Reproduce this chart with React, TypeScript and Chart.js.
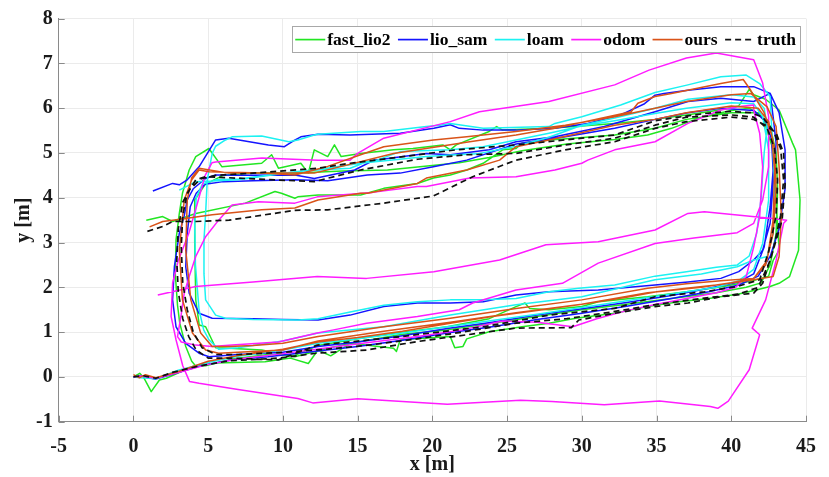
import React, { useEffect, useRef } from 'react';
import { Chart, registerables } from 'chart.js';

Chart.register(...registerables);

type Pt = [number, number];

const seriesLabels = ['fast_lio2', 'lio_sam', 'loam', 'odom', 'ours', 'truth'];
const xTickValues = [-5, 0, 5, 10, 15, 20, 25, 30, 35, 40, 45];
const yTickValues = [-1, 0, 1, 2, 3, 4, 5, 6, 7, 8];

const fastLio2: Pt[] = [
  [0, 0], [0.42, 0.08], [0.7, -0.02], [1.19, -0.33], [1.74, -0.07], [2.2, -0.03], [3.95, 0.23], [5.5, 0.31], [8.8, 0.34],
  [10.5, 0.42], [11.7, 0.3], [12.35, 0.6], [13.2, 0.47], [14.5, 0.75], [17.4, 0.64], [17.6, 0.57], [17.85, 0.83], [21.2, 0.9],
  [21.5, 0.65], [22.05, 0.68], [22.3, 0.85], [23.8, 1.01], [26.0, 1.12], [27.8, 1.2], [29.6, 1.31], [32.2, 1.42], [34.4, 1.57],
  [36.5, 1.68], [38.5, 1.75], [40.5, 1.85], [41.8, 1.95], [42.6, 2.02],
  [43.2, 2.09], [43.9, 2.24], [44.5, 2.83], [44.6, 3.95], [44.3, 5.07], [44.1, 5.22], [43.2, 5.96], [42.3, 6.2], [41.5, 6.3], [41.2, 6.42],
  [40.5, 6.05], [39, 5.95], [37, 5.85], [34.9, 5.75], [32.2, 5.66], [30, 5.6], [27.8, 5.55], [24.7, 5.51], [24.3, 5.59], [23.8, 5.48],
  [21.6, 5.18], [21.2, 5.07], [20.7, 5.18], [18.7, 5.1], [17.4, 5.07], [15.2, 4.99], [13.9, 4.92], [13.45, 5.18], [13.0, 4.92],
  [12.1, 5.07], [11.7, 4.55], [11.2, 4.77], [9.7, 4.66], [9.25, 4.96], [8.58, 4.77], [5.93, 4.69], [5.05, 5.1],
  [4.17, 4.92], [3.73, 4.62], [3.28, 4.1], [3.07, 3.65], [2.85, 3.06], [2.8, 2.3], [2.95, 1.6], [3.1, 1.2], [3.5, 0.68], [3.9, 0.35], [4.2, 0.23], [4.83, 0.25],
  [6.6, 0.4], [9, 0.5], [10.8, 0.48], [12.35, 0.7], [15, 0.85], [18, 1.0], [21, 1.12], [23.8, 1.3], [25.6, 1.57], [26.2, 1.65], [26.5, 1.53],
  [27.8, 1.5], [30, 1.57], [31.1, 1.68], [34.4, 1.79], [37, 1.9], [39.5, 2.02], [41.5, 2.15], [42.5, 2.25],
  [42.8, 2.6], [43.2, 2.83], [43.0, 3.95], [42.8, 5.07], [42.1, 5.81], [41.2, 6.0],
  [40, 5.95], [38, 5.8], [36, 5.55], [34.4, 5.4], [32.2, 5.3], [29, 5.2], [26, 5.05], [23.8, 4.9], [21.8, 4.78], [20, 4.72],
  [17, 4.62], [14, 4.6], [11, 4.55], [8, 4.55], [6, 4.5], [4.8, 4.3],
  [4.1, 3.95], [4.1, 3.0], [4.17, 1.72], [4.4, 1.16], [4.83, 1.12], [5.5, 0.65], [6.4, 0.64],
  [8.58, 0.6], [10.8, 0.45], [13, 0.64], [15, 0.78], [18, 0.95], [21, 1.05], [24, 1.2], [27, 1.35], [30, 1.5], [33, 1.62], [36, 1.75],
  [39, 1.88], [41, 2.0], [42, 2.1],
  [42.6, 2.5], [43.0, 3.2], [43.1, 4.2], [43.0, 5.0], [42.6, 5.6], [41.8, 5.9],
  [40, 5.9], [37, 5.75], [34.9, 5.55], [32.2, 5.4], [29, 5.32], [27.8, 5.29], [26.0, 5.22], [25.6, 5.1], [24.7, 5.07], [23.4, 4.77],
  [22.3, 4.62], [21.2, 4.51], [20.07, 4.44], [19, 4.32], [16.75, 4.21], [15.2, 4.06], [12.35, 4.06], [11, 4.02], [10.8, 3.99],
  [9.9, 4.1], [9.47, 4.14], [7.48, 3.88], [4.17, 3.65], [2.62, 3.47], [1.96, 3.58], [0.86, 3.5],
];

const lioSam: Pt[] = [
  [0, 0], [0.5, 0.02], [1.5, -0.05], [3, 0.1], [4.5, 0.25], [6.5, 0.38], [9, 0.45], [12.35, 0.58], [15, 0.68], [18, 0.82], [21, 0.98],
  [24, 1.12], [27, 1.28], [30, 1.42], [33, 1.58], [36, 1.75], [38.5, 1.9], [40.5, 2.05], [41.8, 2.25],
  [42.6, 2.69], [43.2, 3.3], [43.6, 4.2], [43.6, 5.07], [43.2, 5.9], [42.6, 6.33], [41.5, 6.15],
  [39.3, 6.22], [37.1, 6.15], [34.9, 5.92], [31.5, 5.59], [28.2, 5.36], [25.6, 5.25], [23.8, 5.07], [21.2, 4.96], [19.6, 4.99],
  [16.1, 4.84], [14.8, 4.62], [12.1, 4.43], [10.8, 4.51], [7, 4.5], [5.5, 4.51], [4.83, 4.43], [4.0, 4.2],
  [3.6, 3.95], [3.4, 3.6], [3.07, 3.21], [2.74, 2.46], [2.62, 1.72], [2.85, 1.12], [3.5, 0.75], [4.39, 0.53], [5.05, 0.45],
  [7, 0.5], [10, 0.55], [12.35, 0.68], [15, 0.78], [18, 0.92], [21, 1.08], [24, 1.22], [27, 1.38], [30, 1.52], [33, 1.66], [36, 1.82],
  [38.5, 1.98], [40.5, 2.12], [41.5, 2.3],
  [42.2, 2.9], [42.6, 3.8], [42.8, 4.6], [42.7, 5.3], [42.3, 5.7], [41.5, 5.95],
  [39.3, 6.0], [37.1, 5.9], [34.9, 5.75], [32.2, 5.55], [28.9, 5.36], [25.6, 5.2], [22.3, 4.84], [20.07, 4.69], [17.85, 4.55],
  [15.65, 4.51], [13, 4.38], [10.8, 4.4], [8, 4.38], [6, 4.36], [4.8, 4.3], [4.2, 4.1],
  [3.8, 3.8], [3.6, 3.2], [3.5, 2.46], [3.73, 1.87], [4.39, 1.42], [5.27, 1.31],
  [8, 1.3], [10, 1.28], [12.35, 1.27], [14.5, 1.38], [16.75, 1.57], [19, 1.65], [21.2, 1.65], [23.4, 1.68], [25.6, 1.83], [27.8, 1.9],
  [31.1, 1.94], [34.9, 2.05], [37.1, 2.12], [39.3, 2.2], [40.5, 2.35], [41.5, 2.61],
  [42.1, 2.83], [42.6, 3.43], [42.8, 4.32], [43.0, 5.22], [42.8, 5.81], [42.6, 6.33], [41.5, 6.48],
  [39.3, 6.48], [37.1, 6.4], [35.5, 6.33], [34.9, 6.29], [34.2, 6.1], [32.6, 5.85], [30.4, 5.66], [28.2, 5.55], [25.6, 5.51],
  [23.4, 5.51], [21.8, 5.55], [21.2, 5.63], [20.1, 5.55], [17.85, 5.44], [14.5, 5.4], [12.35, 5.42], [11.2, 5.36], [10.6, 5.25],
  [10.1, 5.14], [9.03, 5.18], [6.38, 5.33], [5.5, 5.29], [4.39, 4.69], [3.6, 4.4], [3.07, 4.29], [2.62, 4.32], [1.3, 4.15],
];

const loam: Pt[] = [
  [0, 0], [0.5, -0.02], [1.5, -0.04], [3, 0.15], [5, 0.32], [7, 0.46], [10, 0.6], [12.35, 0.75], [15, 0.85], [18, 0.98], [21, 1.12],
  [24, 1.26], [27, 1.4], [30, 1.55], [33, 1.7], [36, 1.85], [39, 2.0], [40.5, 2.15], [41.5, 2.4],
  [42.1, 2.98], [42.5, 3.95], [42.5, 5.07], [42.1, 5.81], [41.5, 6.1],
  [40, 6.12], [37, 6.0], [34.9, 5.88], [32.2, 5.72], [30, 5.6], [27.8, 5.44], [25.6, 5.29], [23.4, 5.14], [21.2, 5.07], [17.85, 5.03],
  [16.3, 4.84], [15.65, 4.81], [14.5, 4.66], [12.35, 4.62], [10.8, 4.58], [7.04, 4.42], [5.5, 4.4], [4.6, 4.3],
  [4.2, 4.0], [4.1, 3.4], [4.15, 2.5], [4.39, 1.5], [4.7, 1.05], [5.05, 0.83], [5.7, 0.62],
  [7, 0.65], [10, 0.8], [12.35, 0.98], [16.75, 1.12], [21.2, 1.38], [25.6, 1.61], [30, 1.79], [34.9, 2.17], [38, 2.3], [40.4, 2.46],
  [41.5, 2.61], [42.4, 2.69],
  [42.8, 3.21], [42.9, 4.32], [42.7, 5.59], [42.6, 6.26], [41.9, 6.55], [41.0, 6.74],
  [39.3, 6.7], [37.1, 6.52], [34.9, 6.35], [32.6, 6.07], [30, 5.81], [28.2, 5.66], [27.8, 5.59], [23.4, 5.55], [21.2, 5.66], [20.5, 5.62],
  [19.6, 5.59], [16.75, 5.48], [15.2, 5.48], [12.35, 5.42], [12.1, 5.4], [11, 5.29], [10.4, 5.25], [8.58, 5.38], [6.6, 5.36],
  [6.16, 5.29], [5.5, 5.15], [5.27, 4.99], [4.94, 4.4], [4.83, 3.65],
  [4.72, 3.06], [4.72, 2.3], [4.83, 1.72], [5.5, 1.38], [6.16, 1.31],
  [8, 1.28], [11, 1.27], [12.35, 1.3], [14.5, 1.45], [16.75, 1.6], [19, 1.68], [21.2, 1.72], [23.4, 1.72], [25.6, 1.75], [27.8, 1.9],
  [29.8, 1.98], [32.2, 2.05], [34.9, 2.25], [37, 2.35], [39, 2.45], [40.4, 2.5], [41.2, 2.7],
  [41.7, 3.2], [42.0, 4.0], [42.2, 5.0], [42.4, 5.6], [42.2, 6.0], [41.5, 6.25],
  [40, 6.3], [37.1, 6.2], [34.9, 6.0], [32.2, 5.78], [30, 5.62], [27.8, 5.35], [25.6, 5.15], [23, 4.98], [21, 4.95], [19.6, 4.92],
  [15.2, 4.77], [12.1, 4.62], [10.8, 4.58], [7.04, 4.4], [4.17, 4.36], [3.07, 4.17],
];

const odom: Pt[] = [
  [0, 0], [0.5, 0.02], [1.5, -0.03], [3, 0.1], [5, 0.28], [7, 0.4], [10, 0.52], [13, 0.65], [16, 0.78], [19, 0.9], [22, 1.05],
  [24.7, 1.25], [27, 1.22], [29.4, 1.12], [31, 1.3], [33, 1.48], [35, 1.62], [37, 1.75], [39, 1.88], [40.3, 2.0], [41, 2.24],
  [41.5, 2.9], [41.9, 3.58], [42.1, 4.69], [41.9, 5.44], [41.5, 5.96], [41.5, 6.07],
  [40.4, 6.03], [39.3, 5.96], [37.1, 5.66], [34.9, 5.25], [32.2, 5.07], [30.4, 4.84], [30, 4.77], [28.2, 4.62], [25.6, 4.47],
  [22.5, 4.44], [19.6, 4.25], [19, 4.25], [16, 4.12], [12.3, 4.02], [10.8, 3.88], [8.36, 3.91], [6.6, 3.84],
  [5.7, 3.5], [4.83, 3.13], [4.17, 2.69], [3.73, 2.24], [3.4, 1.87], [3.2, 1.4], [2.95, 0.9], [3.2, 0.78], [4.17, 0.71], [5.25, 0.68],
  [6.6, 0.71], [9.7, 0.78], [12.3, 0.98], [13.4, 1.05], [15.6, 1.2], [19.0, 1.35], [21.8, 1.5], [22.7, 1.65], [25.6, 1.94],
  [28.7, 2.09], [31.1, 2.54], [34.9, 2.98], [37.5, 3.1], [40.4, 3.22], [41.5, 3.43],
  [42.1, 3.95], [42.5, 4.69], [42.5, 5.81], [42.1, 6.56], [41.5, 7.08],
  [39, 7.23], [37, 7.12], [34.5, 6.85], [32.2, 6.52], [27.8, 6.15], [23.15, 5.92], [21.2, 5.7], [16.75, 5.33], [15.0, 4.99],
  [14.5, 4.84], [12.35, 4.84], [8.6, 4.89], [5.5, 4.8], [5.25, 4.78],
  [4.8, 4.5], [4.3, 3.9], [3.7, 3.2], [3.0, 2.6], [2.62, 2.09], [2.52, 1.35], [2.85, 0.83], [3.3, 0.25], [3.75, -0.1], [4.39, -0.14],
  [7, -0.28], [11.0, -0.48], [12.0, -0.58], [15.0, -0.49], [18, -0.55], [21.0, -0.61], [25.9, -0.52], [28, -0.55], [31.5, -0.62],
  [35.2, -0.54], [38.6, -0.66], [39.1, -0.7], [39.8, -0.54], [41.2, 0.16], [41.9, 0.94], [41.4, 1.09], [42.3, 1.72],
  [43.0, 2.6], [43.5, 3.43], [43.7, 3.5],
  [42.6, 3.54], [38.2, 3.69], [37.1, 3.65], [34.9, 3.28], [31.1, 3.02], [27.6, 2.95], [24.5, 2.61], [20.1, 2.35], [15.6, 2.2],
  [12.3, 2.24], [8, 2.12], [4.17, 2.02], [1.63, 1.83],
];

const ours: Pt[] = [
  [0, 0.05], [0.4, -0.02], [0.8, 0.05], [1.5, -0.02], [3, 0.12], [5, 0.35], [7, 0.48], [10, 0.62], [12.35, 0.78], [15, 0.88],
  [18, 1.02], [21.2, 1.2], [24, 1.35], [27, 1.48], [30, 1.62], [33, 1.78], [35, 1.9], [37, 1.98], [39, 2.05], [41.5, 2.17], [42.8, 2.24],
  [43.2, 2.69], [43.35, 3.58], [43.2, 4.69], [43.0, 5.59], [42.4, 6.03], [41.3, 6.33],
  [40, 6.3], [37, 6.15], [34.9, 6.0], [32.2, 5.81], [28.9, 5.62], [25.6, 5.48], [22.3, 5.36], [20.07, 5.29], [16.75, 5.14],
  [15.2, 4.96], [13, 4.7], [10.8, 4.51], [8.58, 4.55], [5.05, 4.58], [4.39, 4.62], [3.9, 4.4],
  [3.4, 3.95], [3.07, 2.83], [3.28, 1.72], [3.95, 0.98], [4.83, 0.6], [5.7, 0.53],
  [7, 0.55], [10, 0.6], [12.35, 0.8], [16.75, 1.02], [21.2, 1.22], [25.6, 1.43], [30, 1.62], [34.4, 1.88], [38, 2.0], [40, 2.1], [41.5, 2.2],
  [42.4, 2.6], [42.8, 3.5], [42.9, 4.6], [42.7, 5.4], [42.2, 5.9], [41.3, 6.4], [40.8, 6.64],
  [39.3, 6.55], [36.0, 6.33], [34.9, 6.26], [33.75, 6.11], [33.3, 5.92], [28.2, 5.55], [25.6, 5.4], [22.5, 5.25], [17.4, 4.99],
  [12.1, 4.55], [6.38, 4.55], [4.39, 4.66], [3.9, 4.45],
  [3.6, 3.95], [3.5, 2.83], [3.84, 1.72], [4.5, 0.98], [5.27, 0.68], [6.4, 0.68],
  [8, 0.7], [10, 0.75], [12.35, 0.9], [16.75, 1.12], [21.2, 1.31], [25.6, 1.53], [30, 1.72], [34.4, 1.98], [37, 2.08], [39.5, 2.15], [41.5, 2.2],
  [42.3, 2.5], [42.8, 3.2], [43.0, 4.2], [42.9, 5.1], [42.5, 5.7], [41.8, 6.0],
  [40, 6.05], [37, 5.9], [34.9, 5.75], [32.2, 5.62], [27.8, 5.29], [25.6, 5.14], [24.5, 4.84], [22.3, 4.62], [19.6, 4.44], [19, 4.32],
  [15.65, 4.1], [15.2, 4.1], [12.35, 3.95], [10.8, 3.77], [8.58, 3.73], [5.27, 3.62], [2.62, 3.5], [1.96, 3.47], [1.08, 3.35],
];

const truth: Pt[] = [
  [0, 0], [0.6, 0.03], [1.5, -0.03], [2.6, 0.1], [4.2, 0.23], [6.4, 0.36], [9.7, 0.42], [12.3, 0.53], [15.6, 0.6], [19, 0.79],
  [22.3, 0.94], [25.6, 1.09], [29.3, 1.1], [29.8, 1.27], [32.2, 1.42], [34.9, 1.57], [37.1, 1.65], [39.3, 1.79], [41.5, 1.87], [42.1, 2.09],
  [42.8, 2.83], [43.3, 3.6], [43.5, 4.4], [43.3, 5.1], [42.8, 5.5], [42.1, 5.8], [41.3, 5.9],
  [39.9, 5.93], [38.2, 5.88], [37.1, 5.83], [34.9, 5.72], [32.2, 5.4], [30, 5.33], [25.6, 5.18], [21.6, 5.07], [19, 4.96], [14.5, 4.77],
  [12.35, 4.66], [8, 4.55], [5.5, 4.5], [4.5, 4.42],
  [3.8, 4.2], [3.3, 3.9], [3.0, 3.3], [2.9, 2.6], [3.0, 1.9], [3.3, 1.3], [3.7, 0.9], [4.2, 0.6], [5.0, 0.42],
  [6.4, 0.42], [9.7, 0.38], [12.3, 0.71], [15, 0.8], [17.9, 0.9], [23.4, 1.12], [27.8, 1.38], [32.2, 1.53], [34.9, 1.79], [38.2, 1.9],
  [40.4, 2.02], [41.9, 2.17],
  [42.5, 2.8], [43.0, 3.6], [43.1, 4.4], [42.9, 5.1], [42.4, 5.55], [41.5, 5.8],
  [40, 5.85], [37, 5.8], [34.9, 5.62], [32.2, 5.33], [28.9, 5.18], [25.6, 4.99], [22.3, 4.96], [19, 4.86], [15.2, 4.62], [12.1, 4.36],
  [7.48, 4.43], [4.83, 4.47], [4.17, 4.4],
  [3.6, 4.1], [3.3, 3.6], [3.2, 2.9], [3.3, 2.1], [3.6, 1.5], [4.0, 1.0], [4.6, 0.65], [5.5, 0.5],
  [7, 0.5], [10, 0.55], [13, 0.62], [16, 0.72], [19, 0.85], [22, 1.0], [25.6, 1.2], [29, 1.3], [32, 1.45], [35, 1.62], [38, 1.75],
  [40.5, 1.85], [41.8, 2.0],
  [42.6, 2.6], [43.4, 3.5], [43.6, 4.3], [43.5, 5.0], [43.0, 5.45], [42.3, 5.62],
  [41.5, 5.75], [40, 5.8], [37, 5.7], [34.9, 5.55], [32.2, 5.25], [28.9, 5.07], [25.6, 4.84], [22.7, 4.47], [20.07, 4.04], [16.75, 3.88],
  [13, 3.73], [10.8, 3.72], [6.4, 3.5], [4.17, 3.47], [2.62, 3.47], [1.96, 3.36], [0.86, 3.24],
];

const seriesData: Pt[][] = [fastLio2, lioSam, loam, odom, ours, truth];
const seriesColors = ['#22e622', '#1414ff', '#1cf2f2', '#ff1cff', '#d95319', '#111111'];
const seriesDashes: number[][] = [[], [], [], [], [], [6, 4]];
const seriesWidths = [1.5, 1.5, 1.5, 1.5, 1.5, 1.7];

const FONT = '"Liberation Serif", "Times New Roman", serif';

const legendBoxPlugin = {
  id: 'legendBox',
  afterDatasetsDraw(chart: any) {
    const { ctx, chartArea } = chart;
    ctx.save();
    ctx.font = `bold 17.5px ${FONT}`;
    const lineLen = 30;
    const gapLT = 2;
    const gapItem = 7.5;
    const padL = 3;
    const padR = 4;
    const h = 26;
    const dsets = chart.data.datasets;
    const widths = dsets.map((d: any) => ctx.measureText(d.label).width);
    const total =
      padL + padR + widths.reduce((a: number, w: number) => a + lineLen + gapLT + w, 0) + gapItem * (dsets.length - 1);
    const right = chartArea.right - 6;
    const top = chartArea.top + 7.5;
    const left = right - total;
    ctx.fillStyle = '#ffffff';
    ctx.fillRect(left, top, total, h);
    ctx.strokeStyle = '#a8a8a8';
    ctx.lineWidth = 1;
    ctx.strokeRect(Math.round(left) + 0.5, Math.round(top) + 0.5, Math.round(total), h);
    let x = left + padL;
    const cy = top + h / 2 + 0.5;
    dsets.forEach((d: any, i: number) => {
      ctx.strokeStyle = d.borderColor;
      ctx.lineWidth = 1.7;
      ctx.setLineDash(d.borderDash || []);
      ctx.beginPath();
      ctx.moveTo(x, cy);
      ctx.lineTo(x + lineLen, cy);
      ctx.stroke();
      ctx.setLineDash([]);
      x += lineLen + gapLT;
      ctx.fillStyle = '#000000';
      ctx.textBaseline = 'middle';
      ctx.textAlign = 'left';
      ctx.fillText(d.label, x, cy + 1);
      x += widths[i] + gapItem;
    });
    ctx.restore();
  },
};

const innerTicksPlugin = {
  id: 'innerTicks',
  afterDatasetsDraw(chart: any) {
    const { ctx, chartArea, scales } = chart;
    ctx.save();
    ctx.strokeStyle = '#8a8a8a';
    ctx.lineWidth = 1;
    xTickValues.forEach((v) => {
      const px = Math.round(scales.x.getPixelForValue(v)) + 0.5;
      ctx.beginPath();
      ctx.moveTo(px, chartArea.bottom);
      ctx.lineTo(px, chartArea.bottom - 6);
      ctx.stroke();
    });
    yTickValues.forEach((v) => {
      const py = Math.round(scales.y.getPixelForValue(v)) + 0.5;
      ctx.beginPath();
      ctx.moveTo(chartArea.left, py);
      ctx.lineTo(chartArea.left + 6, py);
      ctx.stroke();
    });
    ctx.restore();
  },
};

export default function App() {
  const canvasRef = useRef<HTMLCanvasElement | null>(null);

  useEffect(() => {
    document.body.style.margin = '0';
    const canvas = canvasRef.current;
    if (!canvas) return;
    const datasets = seriesLabels.map((label, i) => ({
      label,
      data: seriesData[i].map(([x, y]) => ({ x, y })),
      borderColor: seriesColors[i],
      backgroundColor: seriesColors[i],
      borderWidth: seriesWidths[i],
      borderDash: seriesDashes[i],
      borderJoinStyle: 'round',
      pointRadius: 0,
      showLine: true,
      tension: 0,
      fill: false,
      order: seriesLabels.length - i,
    }));
    const chart = new Chart(canvas, {
      type: 'scatter',
      data: { datasets },
      options: {
        animation: false,
        responsive: false,
        maintainAspectRatio: false,
        layout: { padding: { top: 18.6, right: 16, left: 0, bottom: 0 } },
        plugins: { legend: { display: false }, tooltip: { enabled: false } },
        scales: {
          x: {
            type: 'linear',
            min: -5,
            max: 45,
            afterFit: (s: any) => {
              s.height = 55.3;
            },
            afterBuildTicks: (s: any) => {
              s.ticks = xTickValues.map((v) => ({ value: v }));
            },
            ticks: {
              padding: 13,
              color: '#1a1a1a',
              font: { family: FONT, size: 20, weight: 'bold' },
            },
            grid: { color: '#ebebeb', drawTicks: false, lineWidth: 1 },
            border: { color: '#8a8a8a', width: 1 },
            title: {
              display: true,
              text: 'x [m]',
              color: '#1a1a1a',
              font: { family: FONT, size: 20, weight: 'bold' },
              padding: { top: 0, bottom: 0 },
            },
          },
          y: {
            type: 'linear',
            min: -1,
            max: 8,
            afterFit: (s: any) => {
              s.width = 58.7;
            },
            afterBuildTicks: (s: any) => {
              s.ticks = yTickValues.map((v) => ({ value: v }));
            },
            ticks: {
              padding: 6,
              color: '#1a1a1a',
              font: { family: FONT, size: 20, weight: 'bold' },
            },
            grid: { color: '#ebebeb', drawTicks: false, lineWidth: 1 },
            border: { color: '#8a8a8a', width: 1 },
            title: {
              display: true,
              text: 'y [m]',
              color: '#1a1a1a',
              font: { family: FONT, size: 20, weight: 'bold' },
              padding: { top: 12, bottom: 0 },
            },
          },
        },
      } as any,
      plugins: [innerTicksPlugin, legendBoxPlugin],
    });
    return () => chart.destroy();
  }, []);

  return (
    <div style={{ width: 829, height: 477 }}>
      <canvas ref={canvasRef} width={829} height={477} style={{ display: 'block' }} />
    </div>
  );
}
